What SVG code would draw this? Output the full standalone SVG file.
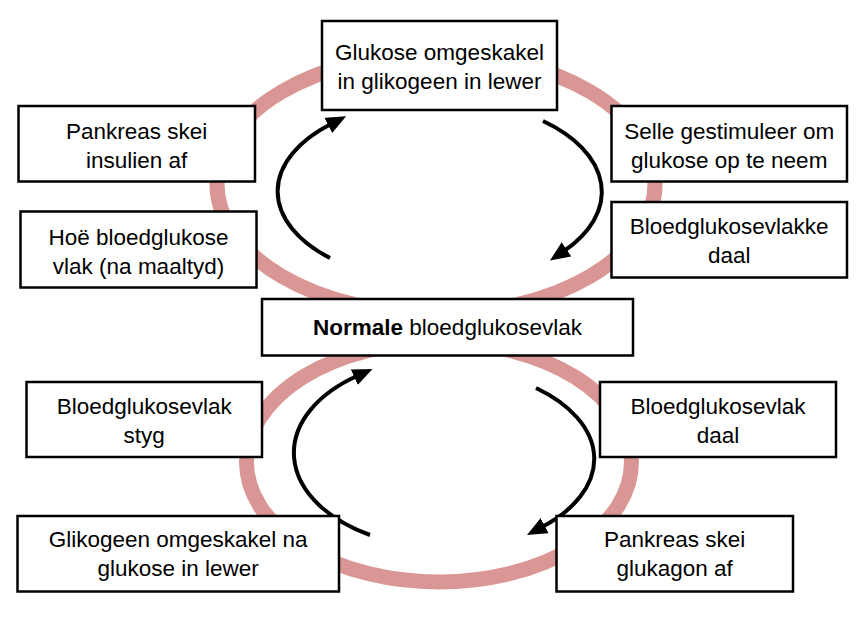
<svg xmlns="http://www.w3.org/2000/svg" width="864" height="634" viewBox="0 0 864 634">
<style>
.ring{fill:none;stroke:#d99694;stroke-width:15}
.box{fill:#fff;stroke:#000;stroke-width:2.5}
.t{font-family:"Liberation Sans",Arial,sans-serif;font-size:22.5px;fill:#000;text-anchor:middle}
.arc{fill:none;stroke:#000;stroke-width:4;marker-end:url(#ah)}
</style>
<defs>
<marker id="ah" viewBox="0 0 20 17" markerWidth="20" markerHeight="17" refX="3" refY="8.5" markerUnits="userSpaceOnUse" orient="auto">
<path d="M0,0 L20,8.5 L0,17 z" fill="#000"/>
</marker>
</defs>
<rect width="864" height="634" fill="#fff"/>
<g id="rings">
<ellipse class="ring" cx="436" cy="184" rx="219" ry="130"/>
<ellipse class="ring" cx="439" cy="462" rx="192.5" ry="120"/>
</g>
<g id="connectors">
<path class="arc" d="M330,258 A168,92 0 0 1 331,124"/>
<path class="arc" d="M543,121 A162,92 0 0 1 564,251"/>
<path class="arc" d="M370,535 A153,95 0 0 1 357,376"/>
<path class="arc" d="M536,388 A160,92 0 0 1 542,527"/>
</g>
<g id="n1"><rect class="box" x="322" y="21" width="235" height="89"/><text class="t" x="439.5" y="59.5">Glukose omgeskakel</text><text class="t" x="439.5" y="88.5">in glikogeen in lewer</text></g>
<g id="n2"><rect class="box" x="18.5" y="106" width="236.5" height="75.5"/><text class="t" x="136.7" y="139">Pankreas skei</text><text class="t" x="136.7" y="168">insulien af</text></g>
<g id="n3"><rect class="box" x="20.5" y="211.5" width="236" height="76"/><text class="t" x="138.5" y="244.5">Hoë bloedglukose</text><text class="t" x="138.5" y="273.5">vlak (na maaltyd)</text></g>
<g id="n4"><rect class="box" x="611.5" y="106" width="235.5" height="75.5"/><text class="t" x="729.2" y="138.5">Selle gestimuleer om</text><text class="t" x="729.2" y="167.5">glukose op te neem</text></g>
<g id="n5"><rect class="box" x="611.5" y="202" width="235.5" height="75.5"/><text class="t" x="729.2" y="233.5">Bloedglukosevlakke</text><text class="t" x="729.2" y="262.5">daal</text></g>
<g id="n6"><rect class="box" x="262" y="299" width="371" height="56.5"/><text class="t" x="447.5" y="335"><tspan font-weight="bold">Normale</tspan> bloedglukosevlak</text></g>
<g id="n7"><rect class="box" x="26.5" y="382" width="235.5" height="75"/><text class="t" x="144.2" y="413.5">Bloedglukosevlak</text><text class="t" x="144.2" y="442.5">styg</text></g>
<g id="n8"><rect class="box" x="600" y="382" width="236" height="75"/><text class="t" x="718" y="413.5">Bloedglukosevlak</text><text class="t" x="718" y="442.5">daal</text></g>
<g id="n9"><rect class="box" x="17.5" y="516" width="321.5" height="75.5"/><text class="t" x="178.2" y="546.5">Glikogeen omgeskakel na</text><text class="t" x="178.2" y="575.5">glukose in lewer</text></g>
<g id="n10"><rect class="box" x="556.5" y="516" width="236.5" height="75.5"/><text class="t" x="674.7" y="546.5">Pankreas skei</text><text class="t" x="674.7" y="575.5">glukagon af</text></g>
</svg>
